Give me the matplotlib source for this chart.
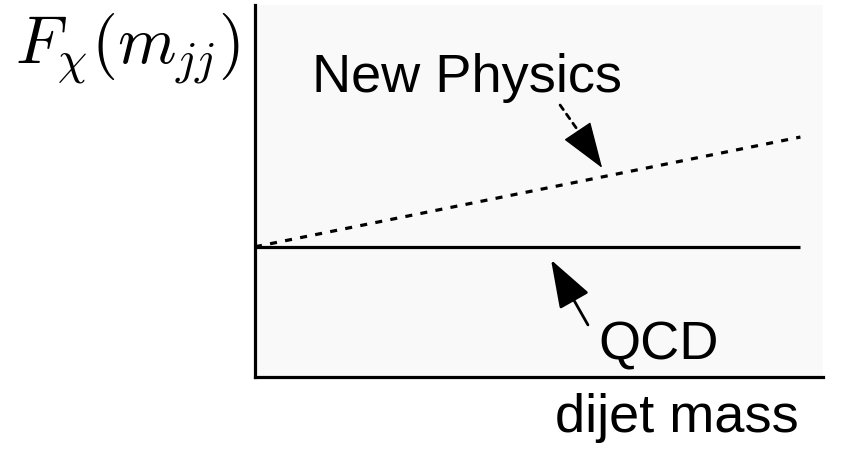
import matplotlib
matplotlib.use("Agg")
import matplotlib.pyplot as plt

plt.rcParams['font.family'] = ['Liberation Sans', 'DejaVu Sans']
plt.rcParams['mathtext.fontset'] = 'cm'

# sketch curves: dijet mass vs. F_chi (arbitrary units)
mass = [0.0, 0.96]
qcd = [0.35, 0.35]
new_physics = [0.35, 0.645]

fig = plt.figure(figsize=(8.66, 4.49), dpi=100)
ax = fig.add_axes([0.2945, 0.1604, 0.656, 0.8285])
ax.set_facecolor('#f9f9f9')
ax.set_xlim(0, 1)
ax.set_ylim(0, 1)

for side in ['top', 'right']:
    ax.spines[side].set_visible(False)
for side in ['left', 'bottom']:
    ax.spines[side].set_linewidth(2.3)
ax.set_xticks([])
ax.set_yticks([])

ax.plot(mass, qcd, color='black', lw=2.3, solid_capstyle='butt')
ax.plot(mass, new_physics, color='black', lw=2.3, ls=(0, (2.2, 2.6)))

# arrows pointing from labels to curves
head = '-|>,head_length=3.0,head_width=1.05'
# dashed shaft + solid head for the new-physics arrow
ax.annotate('', xy=(0.572, 0.655), xytext=(0.537, 0.731),
            arrowprops=dict(arrowstyle='-', color='black', lw=2.0,
                            ls=(0, (2, 2)), shrinkA=0, shrinkB=0))
ax.annotate('', xy=(0.611, 0.562), xytext=(0.568, 0.660),
            arrowprops=dict(arrowstyle=head, color='black', lw=1.0,
                            shrinkA=0, shrinkB=0))
ax.annotate('', xy=(0.521, 0.315), xytext=(0.586, 0.140),
            arrowprops=dict(arrowstyle=head, color='black', lw=2.0,
                            shrinkA=0, shrinkB=0))

ax.text(0.100, 0.766, 'New Physics', transform=ax.transAxes, fontsize=39,
        va='baseline', ha='left')
ax.text(0.604, 0.046, 'QCD', transform=ax.transAxes, fontsize=39,
        va='baseline', ha='left')
ax.text(0.528, -0.148, 'dijet mass', transform=ax.transAxes, fontsize=39,
        va='baseline', ha='left', clip_on=False)

fig.text(15 / 866, (449 - 63) / 449, r'$F_\chi(m_{jj})$', fontsize=48,
         va='baseline', ha='left')

fig.savefig('out.png', dpi=100)
